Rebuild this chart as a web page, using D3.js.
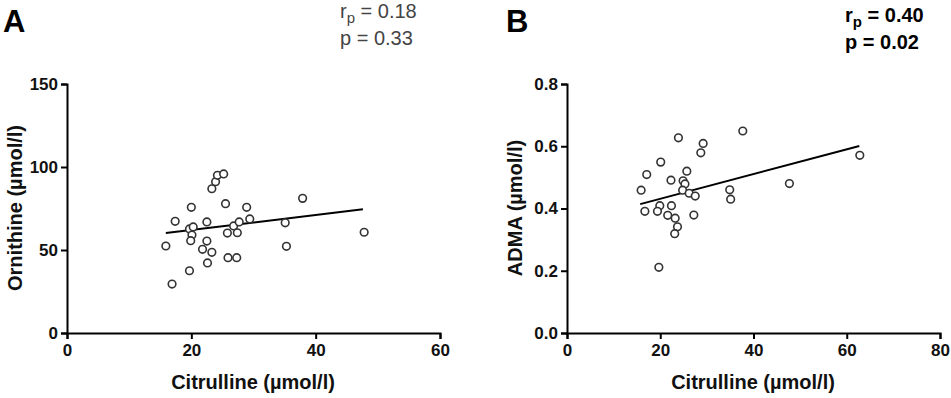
<!DOCTYPE html>
<html>
<head>
<meta charset="utf-8">
<script src="https://cdn.jsdelivr.net/npm/d3@7"></script>
<style>
  body { margin: 0; background: #fff; }
  svg { display: block; font-family: "Liberation Sans", Arial, sans-serif; }
</style>
</head>
<body>
<div class="chart"></div>
<script>
// Panel A: citrulline vs ornithine
const citrullineA = [16.9, 15.9, 17.4, 19.7, 20.3, 20.1, 19.9, 19.7, 20.0, 22.5, 22.5, 21.8, 23.3, 22.6, 23.3, 23.9,
  24.2, 25.2, 25.5, 25.8, 25.9, 26.8, 27.4, 27.3, 27.7, 28.9, 29.4, 35.1, 35.3, 37.9, 47.8];
const ornithine = [29.5, 52.4, 67.3, 62.7, 63.9, 59.0, 55.6, 37.5, 75.7, 66.9, 55.4, 50.4, 48.6, 42.2, 86.9, 91.1,
  95.0, 95.8, 77.9, 60.2, 45.4, 64.5, 60.4, 45.4, 66.9, 75.7, 68.7, 66.4, 52.2, 81.1, 60.7];
// regression line end points (x, y)
const fitA = [[15.9, 60.2], [47.6, 74.5]];

// Panel B: citrulline vs ADMA
const citrullineB = [23.9, 37.7, 29.2, 28.7, 20.1, 17.1, 25.7, 22.3, 24.9, 25.3, 15.9, 24.8, 26.2, 27.5, 34.9, 35.1,
  47.7, 19.9, 22.4, 16.7, 19.4, 21.6, 23.2, 27.2, 23.7, 23.1, 19.7, 62.8];
const adma = [0.627, 0.649, 0.609, 0.579, 0.549, 0.509, 0.520, 0.491, 0.489, 0.479, 0.459, 0.459, 0.449, 0.440, 0.460, 0.430,
  0.480, 0.409, 0.409, 0.391, 0.391, 0.378, 0.369, 0.379, 0.341, 0.319, 0.211, 0.571];
const fitB = [[15.7, 0.414], [62.7, 0.601]];

const ticksXA = [0, 20, 40, 60];
const ticksYA = [0, 50, 100, 150];
const ticksXB = [0, 20, 40, 60, 80];
const ticksYB = [0, 0.2, 0.4, 0.6, 0.8];

const svg = d3.select(".chart").append("svg")
  .attr("width", 951)
  .attr("height", 398);

function drawPanel(opt) {
  const g = svg.append("g");
  const x = d3.scaleLinear().domain(opt.xDomain).range([opt.left, opt.left + 373]);
  const y = d3.scaleLinear().domain(opt.yDomain).range([333, 84]);

  // axes
  const xAxis = g.append("g")
    .attr("transform", "translate(0,333)")
    .call(d3.axisBottom(x).tickValues(opt.xTicks).tickSize(6).tickPadding(5).tickFormat(d3.format("d")));
  const yAxis = g.append("g")
    .attr("transform", `translate(${opt.left},0)`)
    .call(d3.axisLeft(y).tickValues(opt.yTicks).tickSize(6).tickPadding(3).tickFormat(opt.yFormat));
  [xAxis, yAxis].forEach(a => {
    a.attr("font-size", null).attr("font-family", null);
    a.select(".domain").attr("stroke", "#000").attr("stroke-width", 2);
    a.selectAll(".tick line").attr("stroke", "#000").attr("stroke-width", 2);
    a.selectAll(".tick text")
      .attr("fill", "#111")
      .style("font-size", "17px")
      .style("font-weight", "bold");
  });

  // axis titles
  g.append("text")
    .attr("x", opt.left + 186)
    .attr("y", 389)
    .attr("text-anchor", "middle")
    .style("font-size", "20px")
    .style("font-weight", "bold")
    .attr("fill", "#111")
    .text("Citrulline (\u00b5mol/l)");
  g.append("text")
    .attr("transform", `translate(${opt.left - 45},208) rotate(-90)`)
    .attr("text-anchor", "middle")
    .style("font-size", "20px")
    .style("font-weight", "bold")
    .attr("fill", "#111")
    .text(opt.yTitle);

  // regression line
  g.append("path")
    .datum(opt.fit)
    .attr("fill", "none")
    .attr("stroke", "#000")
    .attr("stroke-width", 2)
    .attr("d", d3.line().x(d => x(d[0])).y(d => y(d[1])));

  // data points
  g.selectAll(".pt")
    .data(opt.xs.map((v, i) => [v, opt.ys[i]]))
    .join("circle")
    .attr("class", "pt")
    .attr("cx", d => x(d[0]))
    .attr("cy", d => y(d[1]))
    .attr("r", 3.8)
    .attr("fill", "#fff")
    .attr("stroke", "#333")
    .attr("stroke-width", 1.6);

  // panel letter
  g.append("text")
    .attr("x", opt.letterX)
    .attr("y", 32)
    .style("font-size", "31px")
    .style("font-weight", "bold")
    .attr("fill", "#000")
    .text(opt.letter);

  // statistics
  const st = g.append("g")
    .style("font-size", "20px")
    .style("font-weight", opt.statBold ? "bold" : "normal")
    .attr("fill", opt.statBold ? "#000" : "#444");
  const r = st.append("text").attr("x", opt.statX).attr("y", opt.statY);
  r.append("tspan").text("r");
  r.append("tspan").attr("dy", 5).style("font-size", "15px").text("p");
  r.append("tspan").attr("dy", -5).text(" = " + opt.r);
  st.append("text").attr("x", opt.statX).attr("y", opt.statY + 27).text("p = " + opt.p);
}

drawPanel({
  left: 67, xDomain: [0, 60], yDomain: [0, 150],
  xTicks: ticksXA, yTicks: ticksYA, yFormat: d3.format("d"),
  yTitle: "Ornithine (\u00b5mol/l)",
  xs: citrullineA, ys: ornithine, fit: fitA,
  letter: "A", letterX: 3,
  statX: 340, statY: 18, statBold: false, r: "0.18", p: "0.33"
});

drawPanel({
  left: 567, xDomain: [0, 80], yDomain: [0, 0.8],
  xTicks: ticksXB, yTicks: ticksYB, yFormat: d3.format(".1f"),
  yTitle: "ADMA (\u00b5mol/l)",
  xs: citrullineB, ys: adma, fit: fitB,
  letter: "B", letterX: 506,
  statX: 845, statY: 22, statBold: true, r: "0.40", p: "0.02"
});
</script>
</body>
</html>
